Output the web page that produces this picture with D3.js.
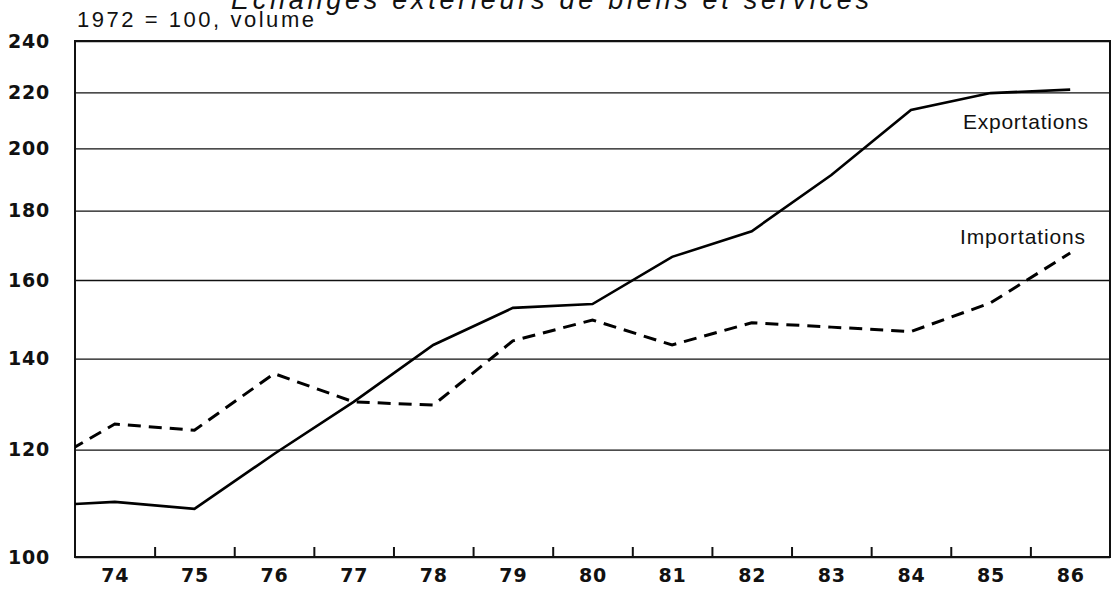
<!DOCTYPE html>
<html>
<head>
<meta charset="utf-8">
<style>
body { margin: 0; background: #fff; }
svg { display: block; }
.axis text { font-family: "DejaVu Sans", sans-serif; font-weight: bold; font-size: 19px; letter-spacing: 0.8px; fill: #111; }
.lbl { font-family: "Liberation Sans", Arial, sans-serif; font-size: 21px; fill: #111; }
</style>
</head>
<body>
<svg width="1117" height="591"></svg>
<script src="https://d3js.org/d3.v7.min.js"></script>
<script>

// values (1972 = 100, volume)
var years = [1973, 1974, 1975, 1976, 1977, 1978, 1979, 1980, 1981, 1982, 1983, 1984, 1985, 1986];
var exportations = [109.0, 109.8, 108.5, 119.1, 130.1, 143.3, 152.6, 153.6, 166.4, 173.8, 191.2, 213.5, 219.7, 221.0];
var importations = [115.9, 125.3, 124.0, 136.5, 130.1, 129.4, 144.3, 149.5, 143.3, 148.8, 147.7, 146.6, 153.9, 167.5];
var yTicks = [100, 120, 140, 160, 180, 200, 220, 240];
var xYears = [1974, 1975, 1976, 1977, 1978, 1979, 1980, 1981, 1982, 1983, 1984, 1985, 1986];
var xLabels = ["74", "75", "76", "77", "78", "79", "80", "81", "82", "83", "84", "85", "86"];

var svg = d3.select("svg"),
    margin = {top: 41, right: 7, bottom: 34, left: 75},
    width = +svg.attr("width") - margin.left - margin.right,
    height = +svg.attr("height") - margin.top - margin.bottom;

var x = d3.scaleLinear()
    .domain([1973.5, 1986.5])
    .range([0, width]);

var y = d3.scaleLog()
    .domain([100, 240])
    .range([height, 0]);

// title, its top is cut off in the reference
svg.append("text")
    .attr("x", 231)
    .attr("y", 9)
    .attr("textLength", 638)
    .attr("lengthAdjust", "spacing")
    .attr("font-family", "Liberation Sans, Arial, sans-serif")
    .attr("font-style", "italic")
    .attr("font-size", 27)
    .attr("fill", "#111")
    .text("Echanges extérieurs de biens et services");

svg.append("text")
    .attr("x", 77)
    .attr("y", 27)
    .attr("textLength", 237)
    .attr("lengthAdjust", "spacing")
    .attr("font-family", "Liberation Sans, Arial, sans-serif")
    .attr("font-size", 22)
    .attr("fill", "#111")
    .text("1972 = 100, volume");

var g = svg.append("g")
    .attr("transform", "translate(" + margin.left + "," + margin.top + ")");

svg.append("defs").append("clipPath")
    .attr("id", "clip")
  .append("rect")
    .attr("width", width)
    .attr("height", height);

// gridlines
g.append("g")
    .call(d3.axisLeft(y).tickValues(yTicks).tickSize(-width).tickFormat(""))
    .call(function(s) {
      s.select(".domain").remove();
      s.selectAll("line").attr("stroke", "#111").attr("stroke-width", 1.3);
    });

// y labels
g.append("g")
    .attr("class", "axis")
    .call(d3.axisLeft(y).tickValues(yTicks).tickSize(0).tickPadding(25).tickFormat(d3.format("d")))
    .call(function(s) { s.select(".domain").remove(); });

// year boundary ticks
g.append("g")
    .attr("transform", "translate(0," + height + ")")
    .call(d3.axisBottom(x).tickValues(xYears.slice(0, -1).map(function(d) { return d + 0.5; }))
      .tickSize(-10).tickFormat(""))
    .call(function(s) {
      s.select(".domain").remove();
      s.selectAll("line").attr("stroke", "#111").attr("stroke-width", 2);
    });

// year labels
g.append("g")
    .attr("class", "axis")
    .attr("transform", "translate(0," + height + ")")
    .call(d3.axisBottom(x).tickValues(xYears).tickSize(0).tickPadding(12)
      .tickFormat(function(d, i) { return xLabels[i]; }))
    .call(function(s) { s.select(".domain").remove(); });

// frame
g.append("rect")
    .attr("width", width)
    .attr("height", height)
    .attr("fill", "none")
    .attr("stroke", "#111")
    .attr("stroke-width", 2);

var line = d3.line()
    .x(function(d, i) { return x(years[i]); })
    .y(function(d) { return y(d); });

g.append("path")
    .datum(exportations)
    .attr("clip-path", "url(#clip)")
    .attr("fill", "none")
    .attr("stroke", "#000")
    .attr("stroke-width", 2.6)
    .attr("d", line);

g.append("path")
    .datum(importations)
    .attr("clip-path", "url(#clip)")
    .attr("fill", "none")
    .attr("stroke", "#000")
    .attr("stroke-width", 3)
    .attr("stroke-dasharray", "13,8")
    .attr("d", line);

g.append("text")
    .attr("class", "lbl")
    .attr("x", 888)
    .attr("y", 88)
    .attr("textLength", 125)
    .attr("lengthAdjust", "spacing")
    .text("Exportations");

g.append("text")
    .attr("class", "lbl")
    .attr("x", 885)
    .attr("y", 203)
    .attr("textLength", 125)
    .attr("lengthAdjust", "spacing")
    .text("Importations");

</script>
</body>
</html>
